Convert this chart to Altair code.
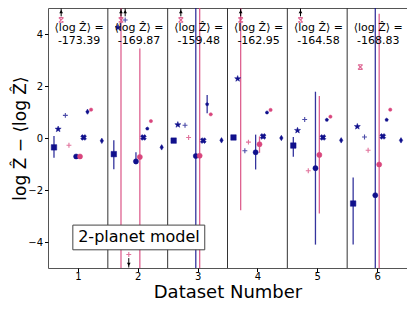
import math
import altair as alt
import pandas as pd

# ---------------- data ----------------
datasets = [1, 2, 3, 4, 5, 6]
mean_logz = ["-173.39", "-169.87", "-159.48", "-162.95", "-164.58", "-168.83"]

series_names = ["square", "star", "pink_x", "navy_plus", "pink_plus", "navy_circle",
                "pink_circle", "navy_X", "pentagon", "pink_dot", "diamond"]

square_vals = [-0.36, -0.62, -0.10, 0.02, -0.29, -2.52]
star_vals = [0.34, 4.25, 0.51, 2.28, 0.29, 0.44]
pink_x_vals = [4.54, 4.54, 4.54, 4.54, 4.54, 2.73]
navy_plus_vals = [0.87, 4.54, 0.49, -0.49, 0.71, 0.04]
pink_plus_vals = [-0.28, -4.48, 0.02, -0.16, -1.26, -0.47]
navy_circle_vals = [-0.71, -0.90, -0.69, -0.55, -1.16, -2.20]
pink_circle_vals = [-0.71, -0.73, -0.68, -0.24, -0.65, -1.02]
navy_X_vals = [0.02, 0.02, -0.10, 0.06, 0.02, 0.06]
pentagon_vals = [1.01, 0.36, 1.30, 0.98, 0.70, 0.70]
pink_dot_vals = [1.09, 0.65, 0.91, 1.08, 0.82, 1.09]
diamond_vals = [-0.11, -0.36, -0.09, 0.00, -0.09, -0.09]

values = {
    "square": square_vals, "star": star_vals, "pink_x": pink_x_vals,
    "navy_plus": navy_plus_vals, "pink_plus": pink_plus_vals,
    "navy_circle": navy_circle_vals, "pink_circle": pink_circle_vals,
    "navy_X": navy_X_vals, "pentagon": pentagon_vals, "pink_dot": pink_dot_vals,
    "diamond": diamond_vals,
}

# error bars
err_series = ["square", "square", "square", "square", "pentagon", "pentagon",
              "pink_x", "pink_x",
              "navy_circle", "navy_circle", "navy_circle", "navy_circle", "navy_circle",
              "pink_circle", "pink_circle", "pink_circle", "pink_circle", "pink_circle"]
err_dataset = [1, 2, 5, 6, 1, 3,
               2, 4,
               2, 3, 4, 5, 6,
               2, 3, 4, 5, 6]
err_low = [-0.76, -1.20, -0.72, -4.10, 0.91, 0.95,
           -5.5, -2.78,
           -1.01, -5.5, -1.21, -4.10, -5.5,
           -5.5, -5.5, -0.57, -2.90, -5.5]
err_high = [0.08, -0.09, 0.04, -1.52, 1.11, 1.65,
            5.5, 5.5,
            -0.55, 5.5, 0.13, 1.78, 5.5,
            3.44, 5.5, 0.06, 1.62, 4.78]

# out-of-range indicators (arrows)
arrow_series = ["pink_x", "pink_x", "pink_x", "pink_x", "pink_x", "navy_plus", "pink_plus"]
arrow_dataset = [1, 2, 3, 4, 5, 2, 2]
arrow_dir = ["up", "up", "up", "up", "up", "up", "down"]

separators = [1.5, 2.5, 3.5, 4.5, 5.5]

# ---------------- styles ----------------
navy = "#10108c"
pink = "#d8457c"


def star_path(n=5, r_in=0.42):
    pts = []
    for k in range(2 * n):
        r = 1.0 if k % 2 == 0 else r_in
        a = -math.pi / 2 + k * math.pi / n
        pts.append(f"{r*math.cos(a):.3f},{r*math.sin(a):.3f}")
    return "M" + "L".join(pts) + "Z"


def poly_path(n=5):
    pts = []
    for k in range(n):
        a = -math.pi / 2 + k * 2 * math.pi / n
        pts.append(f"{math.cos(a):.3f},{math.sin(a):.3f}")
    return "M" + "L".join(pts) + "Z"


plus_path = "M-1,0L1,0M0,-1L0,1"
xcap_path = "M-1,-1L1,1M-1,1L1,-1M-1,-1L1,-1M-1,1L1,1"
thin_diamond = "M0,-1L0.62,0L0,1L-0.62,0Z"

style = {
    "square": dict(off=-0.40, shape="square", color=navy, filled=True, size=30),
    "star": dict(off=-0.33, shape=star_path(), color=navy, filled=True, size=40),
    "pink_x": dict(off=-0.28, shape=xcap_path, color=pink, filled=False, size=22, op=0.8),
    "navy_plus": dict(off=-0.21, shape=plus_path, color=navy, filled=False, size=24, op=0.75),
    "pink_plus": dict(off=-0.15, shape=plus_path, color=pink, filled=False, size=24, op=0.75),
    "navy_circle": dict(off=-0.03, shape="circle", color=navy, filled=True, size=26),
    "pink_circle": dict(off=0.035, shape="circle", color=pink, filled=True, size=26),
    "navy_X": dict(off=0.095, shape="cross", color=navy, filled=True, size=34, angle=45),
    "pentagon": dict(off=0.16, shape=poly_path(), color=navy, filled=True, size=12),
    "pink_dot": dict(off=0.22, shape="circle", color=pink, filled=True, size=11),
    "diamond": dict(off=0.40, shape=thin_diamond, color=navy, filled=True, size=30),
}

X_DOM = [0.5, 6.5]
Y_DOM = [-5, 5]

xs = alt.Scale(domain=X_DOM, nice=False, zero=False)
ys = alt.Scale(domain=Y_DOM, nice=False, zero=False)

x_axis = alt.Axis(values=datasets, title="Dataset Number", format="d",
                  titleFontSize=18, titlePadding=2, tickSize=3.5, labelPadding=0)
y_axis = alt.Axis(values=[-4, -2, 0, 2, 4], title="log Ẑ − ⟨log Ẑ⟩",
                  titleFontSize=17, titlePadding=-2, tickSize=3.5, labelPadding=2)

off_map = {s: style[s]["off"] for s in series_names}

layers = []

# separators
sep_df = pd.DataFrame({"x": separators})
layers.append(
    alt.Chart(sep_df).mark_rule(color="#333333", strokeWidth=1).encode(
        x=alt.X("x:Q", scale=xs, axis=x_axis)
    )
)

# error bars
err_df = pd.DataFrame({"series": err_series, "dataset": err_dataset,
                       "lo": err_low, "hi": err_high})
err_df["x"] = err_df["dataset"] + err_df["series"].map(off_map)
for col, sub_series in [(navy, ["square", "pentagon", "navy_circle"]),
                        (pink, ["pink_x", "pink_circle"])]:
    sub = err_df[err_df["series"].isin(sub_series)]
    layers.append(
        alt.Chart(sub).mark_rule(color=col, strokeWidth=1.3, opacity=0.85, clip=True).encode(
            x=alt.X("x:Q", scale=xs, axis=x_axis),
            y=alt.Y("lo:Q", scale=ys, axis=y_axis),
            y2="hi:Q",
        )
    )

# arrows for out-of-range points
arr_df = pd.DataFrame({"series": arrow_series, "dataset": arrow_dataset, "dir": arrow_dir})
arr_df["x"] = arr_df["dataset"] + arr_df["series"].map(off_map)
arr_df["y0"] = arr_df["dir"].map({"up": 4.68, "down": -4.62})
arr_df["y1"] = arr_df["dir"].map({"up": 4.98, "down": -4.98})
arr_df["yh"] = arr_df["dir"].map({"up": 4.86, "down": -4.86})
layers.append(
    alt.Chart(arr_df).mark_rule(color="black", strokeWidth=1).encode(
        x=alt.X("x:Q", scale=xs), y=alt.Y("y0:Q", scale=ys), y2="y1:Q"
    )
)
for d, shp in [("up", "triangle-up"), ("down", "triangle-down")]:
    layers.append(
        alt.Chart(arr_df[arr_df["dir"] == d]).mark_point(
            shape=shp, filled=True, color="black", size=14, opacity=1
        ).encode(x=alt.X("x:Q", scale=xs), y=alt.Y("yh:Q", scale=ys))
    )

# markers
for s in series_names:
    st = style[s]
    df = pd.DataFrame({"dataset": datasets, "val": values[s]})
    df["x"] = df["dataset"] + st["off"]
    kw = dict(shape=st["shape"], size=st["size"], opacity=st.get("op", 1))
    if st["filled"]:
        kw.update(filled=True, fill=st["color"], stroke=st["color"], strokeWidth=0.5)
    else:
        kw.update(filled=False, stroke=st["color"], strokeWidth=1.1)
    if "angle" in st:
        kw["angle"] = st["angle"]
    layers.append(
        alt.Chart(df).mark_point(**kw).encode(
            x=alt.X("x:Q", scale=xs), y=alt.Y("val:Q", scale=ys)
        )
    )

# mean log Z annotations
ann_df = pd.DataFrame({"dataset": datasets, "val": mean_logz})
ann_df["x"] = ann_df["dataset"] + 0.02
ann_df["line1"] = "⟨log Ẑ⟩ ="
layers.append(
    alt.Chart(ann_df).mark_text(fontSize=11, color="black", baseline="middle", align="center",
                                font="DejaVu Sans").encode(
        x=alt.X("x:Q", scale=xs), y=alt.value(20), text="line1:N"
    )
)
layers.append(
    alt.Chart(ann_df).mark_text(fontSize=11, color="black", baseline="middle", align="center",
                                font="DejaVu Sans").encode(
        x=alt.X("x:Q", scale=xs), y=alt.value(33), text="val:N"
    )
)

# model label box
box_df = pd.DataFrame({"x": [0.915], "x2": [3.12], "y": [-3.35], "y2": [-4.30],
                       "xc": [2.02], "yc": [-3.82], "label": ["2-planet model"]})
layers.append(
    alt.Chart(box_df).mark_rect(fill="white", stroke="#444444", strokeWidth=1).encode(
        x=alt.X("x:Q", scale=xs), x2="x2:Q", y=alt.Y("y:Q", scale=ys), y2="y2:Q"
    )
)
layers.append(
    alt.Chart(box_df).mark_text(fontSize=16, color="black", baseline="middle",
                                align="center", font="DejaVu Sans").encode(
        x=alt.X("xc:Q", scale=xs), y=alt.Y("yc:Q", scale=ys), text="label:N"
    )
)

chart = alt.layer(*layers).properties(
    width=359, height=260,
    padding={"left": 40, "top": 0, "right": 0, "bottom": 33},
    autosize=alt.AutoSizeParams(type="none"),
).configure_axis(
    labelFont="DejaVu Sans", titleFont="DejaVu Sans", labelFontSize=10,
    labelColor="black", tickColor="black", titleColor="black",
    titleFontWeight="normal", grid=False, domain=False,
).configure_view(stroke="#555555", strokeWidth=1)

chart.save("out.html", embed_options={"renderer": "svg", "actions": False})
